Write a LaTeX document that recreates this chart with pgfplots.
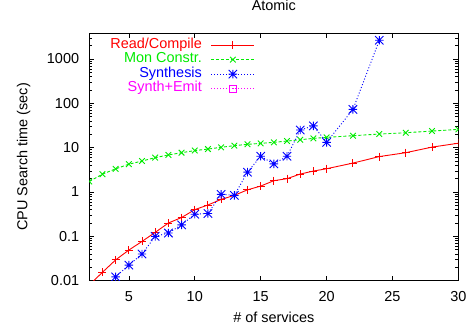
\documentclass[border=0pt]{standalone}
\usepackage{fontspec}
\setmainfont{Liberation Sans}
\usepackage{pgfplots}
\pgfplotsset{compat=1.18}
\pgfdeclareplotmark{gpstar}{%
  \pgfpathmoveto{\pgfqpoint{-\pgfplotmarksize}{0pt}}\pgfpathlineto{\pgfqpoint{\pgfplotmarksize}{0pt}}%
  \pgfpathmoveto{\pgfqpoint{0pt}{-\pgfplotmarksize}}\pgfpathlineto{\pgfqpoint{0pt}{\pgfplotmarksize}}%
  \pgfpathmoveto{\pgfqpoint{-\pgfplotmarksize}{-\pgfplotmarksize}}\pgfpathlineto{\pgfqpoint{\pgfplotmarksize}{\pgfplotmarksize}}%
  \pgfpathmoveto{\pgfqpoint{-\pgfplotmarksize}{\pgfplotmarksize}}\pgfpathlineto{\pgfqpoint{\pgfplotmarksize}{-\pgfplotmarksize}}%
  \pgfusepathqstroke}
\definecolor{gpred}{RGB}{255,0,0}
\definecolor{gpgreen}{RGB}{0,235,0}
\definecolor{gpblue}{RGB}{0,0,255}
\definecolor{gpmag}{RGB}{255,0,255}
\begin{document}
\begin{tikzpicture}[font=\fontsize{14.5}{15}\selectfont]
\begin{axis}[
  scale only axis,
  width=369.1bp, height=247.7bp,
  ymode=log,
  xmin=2, xmax=30, ymin=0.01, ymax=3855,
  xtick={5,10,15,20,25,30},
  ytick={0.01,0.1,1,10,100,1000},
  yticklabels={0.01,0.1,1,10,100,1000},
  minor ytick={0.02,0.03,0.04,0.05,0.06,0.07,0.08,0.09,0.2,0.3,0.4,0.5,0.6,0.7,0.8,0.9,2,3,4,5,6,7,8,9,20,30,40,50,60,70,80,90,200,300,400,500,600,700,800,900,2000,3000},
  tick align=inside,
  major tick length=5bp, minor tick length=3bp,
  tick style={black, line width=0.6bp},
  axis line style={black, line width=0.7bp},
  /pgf/number format/assume math mode=true,
  xticklabel style={anchor=base, inner sep=0pt, yshift=-20.6bp},
  yticklabel style={anchor=east, inner sep=0pt, xshift=-10bp},
  title={Atomic},
  title style={at={(axis description cs:0.5,1.0658)}, anchor=base, inner sep=0pt},
  xlabel={\# of services},
  xlabel style={at={(axis description cs:0.5,-0.168)}, anchor=base, inner sep=0pt},
  ylabel={CPU Search time (sec)},
  ylabel style={at={(axis description cs:-0.1679,0.5)}, anchor=base, inner sep=0pt},
  clip marker paths=true,
  legend plot pos=right,
  legend cell align=right,
  legend image code/.code={\draw[mark repeat=2,mark phase=2] plot coordinates {(0bp,0bp) (21.5bp,0bp) (43bp,0bp)};},
  legend style={draw=none, fill=none, at={(0.449,0.981)}, anchor=north east, inner sep=0pt, column sep=9bp, row sep=0pt,
    nodes={inner sep=0pt, text height=10.5bp, text depth=4bp}},
]
\addplot[color=gpred, line width=0.9bp, mark=+, mark size=4bp, mark options={solid}] coordinates {
 (2,0.008) (3,0.0155) (4,0.0295) (5,0.049) (6,0.077) (7,0.123) (8,0.2) (9,0.266) (10,0.4)
 (11,0.51) (12,0.68) (13,0.84) (14,1.12) (15,1.36) (16,1.8) (17,2.0) (18,2.54) (19,2.97)
 (20,3.35) (22,4.49) (24,6.3) (26,7.7) (28,10.3) (30,12.6)};
\addlegendentry{\textcolor{gpred}{Read/Compile}}
\addplot[color=gpgreen, line width=0.9bp, dash pattern=on 3bp off 2bp, mark=x, mark size=4bp, mark options={solid}] coordinates {
 (2,1.73) (3,2.53) (4,3.33) (5,4.24) (6,5.0) (7,5.97) (8,6.85) (9,7.7) (10,8.6) (11,9.3)
 (12,10.2) (13,11.1) (14,11.9) (15,12.5) (16,13.2) (17,14.1) (18,15.1) (19,16.2) (20,17.1)
 (22,18.6) (24,20.3) (26,21.7) (28,23.7) (30,25.8)};
\addlegendentry{\textcolor{gpgreen}{Mon Constr.}}
\addplot[color=gpblue, line width=0.9bp, dash pattern=on 1bp off 2bp, mark=gpstar, mark size=4.2bp, mark options={solid}] coordinates {
 (4,0.0122) (5,0.0224) (6,0.040) (7,0.1) (8,0.119) (9,0.182) (10,0.316) (11,0.327)
 (12,0.887) (13,0.84) (14,2.8) (15,6.4) (16,4.3) (17,6.4) (18,25) (19,31) (20,13.2)
 (22,72.8) (24,2640)};
\addlegendentry{\textcolor{gpblue}{Synthesis}}
\addlegendimage{color=gpmag, line width=0.9bp, dash pattern=on 1bp off 2bp, mark=square, mark size=3.5bp, mark options={solid}}
\addlegendentry{\textcolor{gpmag}{Synth+Emit}}
\coordinate (bl) at (rel axis cs:0,0);
\coordinate (tr) at (rel axis cs:1,1);
\end{axis}
\pgfresetboundingbox
\path[use as bounding box] ([xshift=-89.3bp,yshift=-49.3bp]bl) rectangle ([xshift=8.6bp,yshift=33bp]tr);
\end{tikzpicture}
\end{document}
